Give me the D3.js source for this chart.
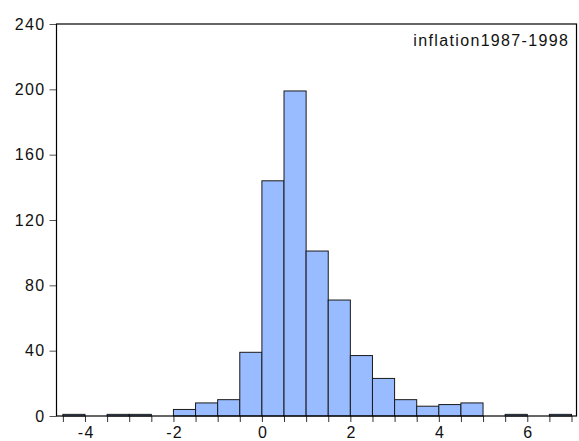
<!DOCTYPE html>
<html>
<head>
<meta charset="utf-8">
<script src="https://cdn.jsdelivr.net/npm/d3@7"></script>
<style>
  html, body { margin: 0; padding: 0; background: #fff; }
  svg { display: block; }
  text { font-family: Arial, "Liberation Sans", sans-serif; }
</style>
</head>
<body>
<svg id="chart" width="579" height="441"></svg>
<script>
// Histogram bins (lower edge) and counts
const binStarts = [-4.5, -3.5, -3.0, -2.0, -1.5, -1.0, -0.5, 0.0, 0.5, 1.0, 1.5, 2.0, 2.5, 3.0, 3.5, 4.0, 4.5, 5.5, 6.5];
const binWidth = 0.5;
const counts    = [1, 1, 1, 4, 8, 10, 39, 144, 199, 101, 71, 37, 23, 10, 6, 7, 8, 1, 1];
const xTickValues = [-4.5,-4,-3.5,-3,-2.5,-2,-1.5,-1,-0.5,0,0.5,1,1.5,2,2.5,3,3.5,4,4.5,5,5.5,6,6.5,7];
const xLabelValues = [-4, -2, 0, 2, 4, 6];
const yTickValues = [0, 40, 80, 120, 160, 200, 240];
const legendLabel = "inflation1987-1998";

const FONT = "Arial, 'Liberation Sans', sans-serif";
const FS = 16, LS = 1.35;

const svg = d3.select("#chart");
const L = 56.5, R = 576.5, T = 24, B = 416;

const x = d3.scaleLinear().domain([-4.644, 7.113]).range([L, R]);
const y = d3.scaleLinear().domain([0, 240]).range([B, T]);

// bars
svg.append("g").selectAll("rect")
  .data(binStarts.map((s, i) => ({ s, c: counts[i] })))
  .join("rect")
  .attr("x", d => x(d.s))
  .attr("width", d => x(d.s + binWidth) - x(d.s))
  .attr("y", d => y(d.c))
  .attr("height", d => y(0) - y(d.c))
  .attr("fill", "#99bbff")
  .attr("stroke", "#1a1a1a")
  .attr("stroke-width", 1);

// y axis
const yAxis = d3.axisLeft(y).tickValues(yTickValues).tickSize(7).tickPadding(4).tickFormat(d3.format("d"));
const gy = svg.append("g").attr("transform", `translate(${L},0)`).call(yAxis);
gy.select(".domain").remove();
gy.selectAll(".tick line").attr("stroke", "#555");
gy.selectAll(".tick text").attr("font-size", FS).attr("letter-spacing", LS).attr("fill", "#111").attr("font-family", FONT);

// x axis
const xAxis = d3.axisBottom(x).tickValues(xTickValues).tickSize(6).tickPadding(5)
  .tickFormat(d => xLabelValues.includes(d) ? d3.format("d")(d).replace("−", "-") : "");
const gx = svg.append("g").attr("transform", `translate(0,${B})`).call(xAxis);
gx.select(".domain").remove();
gx.selectAll(".tick line").attr("stroke", "#333");
gx.selectAll(".tick text").attr("font-size", FS).attr("letter-spacing", LS).attr("dx", LS / 2)
  .attr("fill", "#111").attr("font-family", FONT);

// frame
svg.append("rect")
  .attr("x", L).attr("y", T)
  .attr("width", R - L).attr("height", B - T)
  .attr("fill", "none").attr("stroke", "#000").attr("stroke-width", 1.2);

// legend label
svg.append("text")
  .attr("x", 569.3).attr("y", 46)
  .attr("text-anchor", "end")
  .attr("font-size", FS)
  .attr("letter-spacing", LS)
  .attr("font-family", FONT)
  .attr("fill", "#111")
  .text(legendLabel);
</script>
</body>
</html>
